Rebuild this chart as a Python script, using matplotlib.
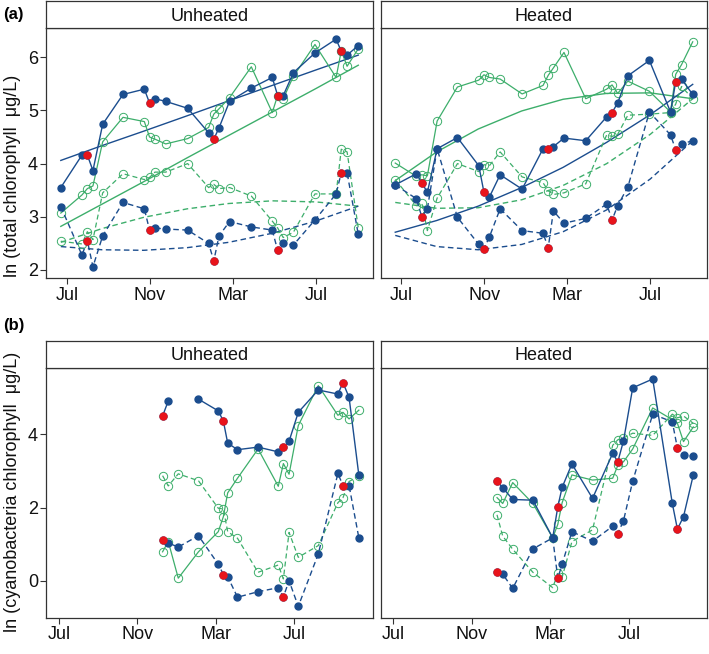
import numpy as np
import matplotlib.pyplot as plt

plt.rcParams['font.family'] = ['Liberation Sans', 'DejaVu Sans']

BLUE = '#1b4d8e'
GREEN = '#3dae6b'
RED = '#e8141b'
EDGE = '#333333'

# sampling dates in months after the first 1 July
top_months = [-0.3, 0.72, 0.98, 1.25, 1.72, 2.7, 3.73, 3.98, 4.24, 4.76, 5.82, 6.83, 7.08,
              7.33, 7.84, 8.89, 9.9, 10.16, 10.43, 10.92, 11.96, 12.98, 13.23, 13.51, 14.05]
top_red = [2, 7, 12, 17, 22]
bottom_months = [5.28, 5.57, 6.08, 7.11, 8.12, 8.38, 8.6, 9.1, 10.15, 11.18, 11.44, 11.73,
                 12.2, 13.22, 14.22, 14.48, 14.79, 15.29]
bottom_red = [0, 5, 10, 15]

# (a) total chlorophyll, unheated
unheated_total_blue_solid = [3.55, 4.16, 4.16, 3.87, 4.74, 5.30, 5.40, 5.14, 5.22, 5.17, 5.04, 4.58, 4.46,
                             4.67, 5.17, 5.42, 5.62, 5.28, 5.28, 5.71, 6.08, 6.34, 6.11, 6.04, 6.22]
unheated_total_blue_dashed = [3.19, 2.28, 2.55, 2.06, 2.64, 3.27, 3.15, 2.75, 2.79, 2.77, 2.75, 2.50, 2.17,
                              2.64, 2.91, 2.81, 2.75, 2.37, 2.50, 2.47, 2.94, 3.43, 3.83, 3.83, 2.67]
unheated_total_green_solid = [3.07, 3.41, 3.53, 3.58, 4.41, 4.87, 4.79, 4.50, 4.46, 4.37, 4.47, 4.68, 4.93,
                              5.03, 5.24, 5.82, 4.96, 5.28, 5.22, 5.64, 6.24, 5.62, 6.12, 5.83, 6.16]
unheated_total_green_dashed = [2.54, 2.49, 2.72, 2.57, 3.45, 3.81, 3.70, 3.74, 3.84, 3.84, 4.00, 3.55, 3.61,
                               3.53, 3.55, 3.39, 2.92, 2.79, 2.61, 2.71, 3.43, 3.43, 4.27, 4.22, 2.79]

# (a) total chlorophyll, heated
heated_total_blue_solid = [3.60, 3.81, 3.64, 3.46, 4.28, 4.49, 3.96, 3.46, 3.37, 3.79, 3.52, 4.28, 4.28,
                           4.32, 4.48, 4.43, 4.88, 4.96, 5.14, 5.65, 5.94, 4.97, 5.54, 5.59, 5.30]
heated_total_blue_dashed = [3.60, 3.34, 3.00, 3.15, 4.28, 2.99, 2.48, 2.40, 2.62, 3.15, 2.74, 2.69, 2.42,
                            3.11, 2.88, 2.97, 3.24, 2.94, 3.21, 3.56, 4.97, 4.54, 4.26, 4.37, 4.43]
heated_total_green_solid = [4.01, 3.76, 3.79, 3.77, 4.80, 5.44, 5.57, 5.67, 5.62, 5.59, 5.31, 5.47, 5.66,
                            5.80, 6.09, 5.22, 5.40, 5.48, 5.32, 5.55, 5.36, 4.97, 5.68, 5.86, 6.29]
heated_total_green_dashed = [3.70, 3.21, 3.26, 2.74, 3.35, 4.00, 3.85, 3.98, 3.96, 4.22, 3.75, 3.64, 3.49,
                             3.42, 3.45, 3.62, 4.54, 4.51, 4.55, 4.91, 4.93, 4.96, 5.12, 5.45, 5.22]

# fitted trends of panel (a), read at these months
trend_months = [-0.3, 1.7, 3.7, 5.8, 7.8, 9.9, 12.0, 14.05]
unheated_trend_blue_solid = [4.06, 4.34, 4.61, 4.90, 5.18, 5.47, 5.76, 6.04]
unheated_trend_blue_dashed = [2.44, 2.38, 2.37, 2.42, 2.52, 2.69, 2.92, 3.20]
unheated_trend_green_solid = [2.82, 3.24, 3.66, 4.11, 4.53, 4.97, 5.41, 5.85]
unheated_trend_green_dashed = [2.52, 2.78, 2.99, 3.15, 3.25, 3.30, 3.28, 3.20]
heated_trend_blue_solid = [2.71, 2.93, 3.20, 3.55, 3.93, 4.40, 4.92, 5.49]
heated_trend_blue_dashed = [2.65, 2.44, 2.38, 2.48, 2.72, 3.13, 3.71, 4.43]
heated_trend_green_solid = [3.68, 4.22, 4.65, 4.99, 5.21, 5.32, 5.33, 5.22]
heated_trend_green_dashed = [3.27, 3.16, 3.17, 3.32, 3.59, 4.00, 4.55, 5.22]

# (b) cyanobacteria chlorophyll
unheated_cyano_blue_solid = [4.50, 4.91, np.nan, 4.96, 4.64, 4.36, 3.76, 3.58, 3.65, 3.52, 3.64, 3.81,
                             4.60, 5.21, 5.10, 5.41, 5.01, 2.88]
unheated_cyano_blue_dashed = [1.12, 1.03, 0.92, 1.23, 0.45, 0.17, 0.11, -0.45, -0.30, -0.19, -0.44, 0.00,
                              -0.70, 0.73, 2.93, 2.60, 2.60, 1.17]
unheated_cyano_green_solid = [0.79, 1.07, 0.07, 0.79, 1.34, 1.75, 2.40, 2.80, 3.60, 2.58, 3.20, 2.91,
                              4.24, 5.33, 4.52, 4.60, 4.42, 4.66]
unheated_cyano_green_dashed = [2.87, 2.59, 2.92, 2.73, 1.98, 1.96, 1.34, 1.16, 0.23, 0.43, 0.05, 1.32,
                               0.64, 0.96, 2.13, 2.27, 2.71, 2.86]
heated_cyano_blue_solid = [2.72, 2.54, 2.22, 2.20, 1.17, 2.02, 2.55, 3.19, 2.25, 3.48, 3.25, 3.82,
                           5.27, 5.51, 2.11, 1.41, 1.75, 2.89]
heated_cyano_blue_dashed = [0.23, 0.18, -0.21, 0.87, 1.17, 0.07, 0.45, 1.34, 1.08, 1.49, 1.29, 1.64,
                            2.72, 4.55, 4.34, 3.62, 3.43, 3.41]
heated_cyano_green_solid = [2.27, 2.11, 2.68, 2.11, 1.17, 1.54, 2.13, 2.89, 2.75, 2.80, 3.15, 3.25,
                            3.60, 4.72, 4.40, 4.30, 3.80, 4.20]
heated_cyano_green_dashed = [1.80, 1.22, 0.86, 0.23, -0.19, 0.20, 0.09, 1.07, 1.39, 3.70, 3.85, 3.90,
                             4.03, 3.97, 4.55, 4.45, 4.50, 4.30]

month_ticks = [0, 4, 8, 12]
month_labels = ['Jul', 'Nov', 'Mar', 'Jul']

DASH = (0, (4, 2.5))


def draw_series(ax, months, red_idx, blue_solid, blue_dashed, green_solid, green_dashed):
    """Green open circles, blue dots, red dots on the marked blue samples"""
    months = np.array(months)
    for values, style in ((green_dashed, DASH), (green_solid, '-')):
        ax.plot(months, values, color=GREEN, linestyle=style, linewidth=0.9, marker='o',
                markersize=6, fillstyle='none', markeredgewidth=0.7, zorder=3)
    for values, style in ((blue_dashed, DASH), (blue_solid, '-')):
        ax.plot(months, values, color=BLUE, linestyle=style, linewidth=1.0, marker='o',
                markersize=5, zorder=4)
        values = np.array(values)
        ax.plot(months[red_idx], values[red_idx], linestyle='none', marker='o', markersize=5,
                color=RED, zorder=5)


def draw_trends(ax, blue_solid, blue_dashed, green_solid, green_dashed):
    ax.plot(trend_months, green_solid, color=GREEN, linewidth=1.0, zorder=2)
    ax.plot(trend_months, green_dashed, color=GREEN, linewidth=1.0, linestyle=DASH, zorder=2)
    ax.plot(trend_months, blue_solid, color=BLUE, linewidth=1.0, zorder=2)
    ax.plot(trend_months, blue_dashed, color=BLUE, linewidth=1.0, linestyle=DASH, zorder=2)


def make_panel(fig, rect, title, xlim, ylim, yticks, show_y):
    x0, y0, w, h = rect
    ax = fig.add_axes([x0, y0, w, h])
    ax.set_xlim(xlim)
    ax.set_ylim(ylim)
    ax.set_xticks(month_ticks)
    ax.set_xticklabels(month_labels)
    ax.set_yticks(yticks)
    ax.tick_params(length=4, width=0.8, color=EDGE, labelsize=13, pad=2, labelcolor='#111111')
    if not show_y:
        ax.tick_params(axis='y', left=False, labelleft=False)
    for spine in ax.spines.values():
        spine.set_color(EDGE)
        spine.set_linewidth(0.9)

    strip = fig.add_axes([x0, y0 + h, w, 0.041])
    strip.set_xticks([])
    strip.set_yticks([])
    for spine in strip.spines.values():
        spine.set_color(EDGE)
        spine.set_linewidth(0.9)
    strip.text(0.5, 0.45, title, ha='center', va='center', fontsize=13, color='#111111')
    return ax


def main():
    fig = plt.figure(figsize=(7.09, 6.54), dpi=100)

    left_x, right_x, width = 0.0653, 0.537, 0.4605
    top_y, bottom_y, height = 0.5745, 0.0555, 0.3823
    top_xlim, bottom_xlim = (-1.0, 14.75), (-0.65, 16.0)
    top_ylim, bottom_ylim = (1.844, 6.545), (-1.01, 5.82)

    # Panel (a)
    ax = make_panel(fig, (left_x, top_y, width, height), 'Unheated', top_xlim, top_ylim,
                    [2, 3, 4, 5, 6], True)
    draw_trends(ax, unheated_trend_blue_solid, unheated_trend_blue_dashed,
                unheated_trend_green_solid, unheated_trend_green_dashed)
    draw_series(ax, top_months, top_red, unheated_total_blue_solid, unheated_total_blue_dashed,
                unheated_total_green_solid, unheated_total_green_dashed)

    ax = make_panel(fig, (right_x, top_y, width, height), 'Heated', top_xlim, top_ylim,
                    [2, 3, 4, 5, 6], False)
    draw_trends(ax, heated_trend_blue_solid, heated_trend_blue_dashed,
                heated_trend_green_solid, heated_trend_green_dashed)
    draw_series(ax, top_months, top_red, heated_total_blue_solid, heated_total_blue_dashed,
                heated_total_green_solid, heated_total_green_dashed)

    # Panel (b)
    ax = make_panel(fig, (left_x, bottom_y, width, height), 'Unheated', bottom_xlim, bottom_ylim,
                    [0, 2, 4], True)
    draw_series(ax, bottom_months, bottom_red, unheated_cyano_blue_solid, unheated_cyano_blue_dashed,
                unheated_cyano_green_solid, unheated_cyano_green_dashed)

    ax = make_panel(fig, (right_x, bottom_y, width, height), 'Heated', bottom_xlim, bottom_ylim,
                    [0, 2, 4], False)
    draw_series(ax, bottom_months, bottom_red, heated_cyano_blue_solid, heated_cyano_blue_dashed,
                heated_cyano_green_solid, heated_cyano_green_dashed)

    fig.text(0.004, 0.978, '(a)', fontsize=12, fontweight='bold', va='center')
    fig.text(0.004, 0.503, '(b)', fontsize=12, fontweight='bold', va='center')
    fig.text(0.017, 0.731, 'ln (total chlorophyll  μg/L)', rotation=90, fontsize=13,
             ha='center', va='center', color='#111111')
    fig.text(0.017, 0.2477, 'ln (cyanobacteria chlorophyll  μg/L)', rotation=90, fontsize=13,
             ha='center', va='center', color='#111111')

    fig.savefig('out.png', dpi=100)


if __name__ == "__main__":
    main()
